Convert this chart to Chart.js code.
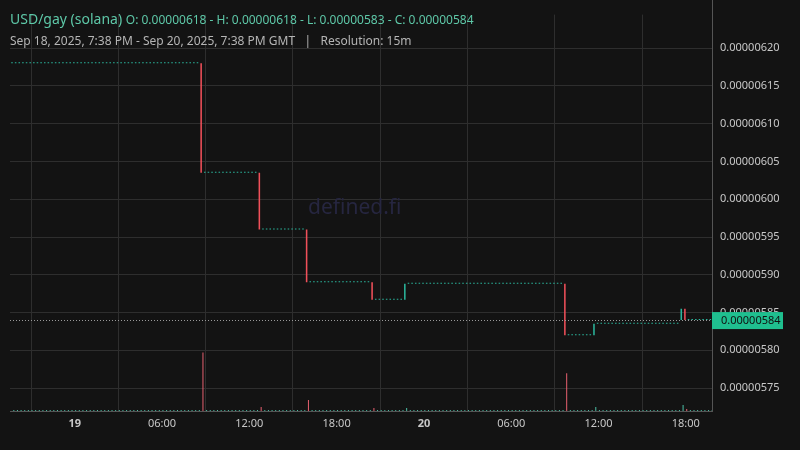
<!DOCTYPE html>
<html><head><meta charset="utf-8">
<script src="https://cdn.jsdelivr.net/npm/chart.js@4"></script>
<style>
body{margin:0;background:#131313;font-family:"Noto Sans",sans-serif;}
#wrap{position:relative;width:800px;height:450px;}
#t1{position:absolute;left:10px;top:9px;color:#5ec8a8;font-size:14px;white-space:nowrap}
#t1 span{font-size:12px}
#t2{position:absolute;left:10px;top:32px;color:#b5b5b5;font-size:12px;white-space:nowrap}
#wm{position:absolute;left:308px;top:192px;color:#262640;font-size:21px}
</style></head><body>
<div id="wrap"><canvas id="c" width="800" height="450"></canvas>
<div id="wm">defined.fi</div>
<div id="t1">USD/gay (solana) <span>O: 0.00000618 - H: 0.00000618 - L: 0.00000583 - C: 0.00000584</span></div>
<div id="t2">Sep 18, 2025, 7:38 PM - Sep 20, 2025, 7:38 PM GMT &nbsp;&nbsp;|&nbsp;&nbsp; Resolution: 15m</div>
</div>
<script>
// hours relative to Sep 19 00:00 GMT
const startHour = -4.25, endHour = 43.75;
// price change candles: hour, open, close, volume
const eventHours  = [8.75, 12.75, 16.0, 20.5, 22.75, 33.75, 35.75, 41.75, 42.0];
const eventOpen   = [6.18, 6.035, 5.96, 5.89, 5.867, 5.888, 5.82, 5.84, 5.855];
const eventClose  = [6.035, 5.96, 5.89, 5.867, 5.888, 5.82, 5.835, 5.855, 5.84];
const eventVolume = [59, 4, 11, 3, 3, 38, 4, 6, 2];
const firstPrice = 6.18, lastPrice = 5.84, flatVolume = 1;
const xTickHours = [0, 6, 12, 18, 24, 30, 36, 42];
const xTickLabels = ['19','06:00','12:00','18:00','20','06:00','12:00','18:00'];

const GREEN = '#2bb59c', RED = '#f0505a', VG = '#4cbfa6', VR = '#e8606f';
const candles = [], vols = [];
let price = firstPrice;
for (let h = startHour; h <= endHour + 1e-9; h += 0.25) {
  const i = eventHours.findIndex(e => Math.abs(e - h) < 1e-6);
  if (i >= 0) {
    const o = eventOpen[i] * 1e-6, c = eventClose[i] * 1e-6;
    candles.push({x: h, y: [o, c], col: c < o ? RED : GREEN});
    vols.push({x: h, y: eventVolume[i], col: c < o ? VR : VG});
    price = eventClose[i];
  } else {
    candles.push({x: h, y: [price * 1e-6, price * 1e-6], col: GREEN});
    vols.push({x: h, y: flatVolume, col: VG});
  }
}
const last = lastPrice * 1e-6;
const overlay = {
  id: 'ov',
  afterDatasetsDraw(ch) {
    const ctx = ch.ctx, a = ch.chartArea, y = ch.scales.y.getPixelForValue(last);
    ctx.save();
    ctx.strokeStyle = '#9a9a9a'; ctx.setLineDash([1, 2]); ctx.lineWidth = 1;
    ctx.beginPath(); ctx.moveTo(a.left, Math.round(y) + .5); ctx.lineTo(a.right, Math.round(y) + .5); ctx.stroke();
    ctx.setLineDash([]);
    ctx.strokeStyle = '#555'; ctx.beginPath();
    ctx.moveTo(a.right + .5, 0); ctx.lineTo(a.right + .5, a.bottom); ctx.stroke();
    ctx.fillStyle = '#1fbf8f'; ctx.fillRect(a.right, y - 8, 71, 17);
    ctx.fillStyle = '#111'; ctx.font = '11px "Noto Sans"'; ctx.textBaseline = 'middle';
    ctx.fillText(last.toFixed(8), a.right + 9, y + 1);
    ctx.restore();
  }
};
new Chart(document.getElementById('c'), {
  type: 'bar',
  data: {datasets: [
    {data: candles, yAxisID: 'y', backgroundColor: c => c.raw ? c.raw.col : GREEN, minBarLength: 1, barPercentage: 0.85, categoryPercentage: 1, order: 1},
    {data: vols, yAxisID: 'v', backgroundColor: c => c.raw ? c.raw.col : VG, barPercentage: 0.55, categoryPercentage: 1, order: 2}
  ]},
  options: {
    responsive: false, animation: false,
    layout: {padding: {top: 10, left: 10, right: 0, bottom: 19}},
    plugins: {legend: {display: false}, tooltip: {enabled: false}},
    scales: {
      x: {type: 'linear', min: -4.45, max: 43.8, offset: false,
        afterBuildTicks: s => { s.ticks = xTickHours.map(v => ({value: v})); },
        afterFit: s => { s.height = 20; },
        ticks: {color: '#c8c8c8', maxRotation: 0, autoSkip: false, padding: 6,
          font: c => ({size: 11, weight: (c.tick && (c.tick.value % 24 === 0)) ? 'bold' : 'normal', family: 'Noto Sans'}),
          callback: v => xTickLabels[xTickHours.indexOf(v)] ?? ''},
        grid: {color: '#2e2e2e', drawTicks: false}, border: {color: '#555'}},
      y: {position: 'right', min: 5.7196e-6, max: 6.2445e-6,
        afterBuildTicks: s => { const t = []; for (let k = 575; k <= 620; k += 5) t.push({value: k * 1e-8}); s.ticks = t; },
        afterFit: s => { s.width = 88; },
        ticks: {color: '#c8c8c8', font: {size: 11, family: 'Noto Sans'}, padding: 8, callback: v => v.toFixed(8)},
        grid: {color: '#2e2e2e', drawTicks: false}, border: {display: false}},
      v: {display: false, min: 0, max: 400}
    }
  },
  plugins: [overlay]
});
</script></body></html>
